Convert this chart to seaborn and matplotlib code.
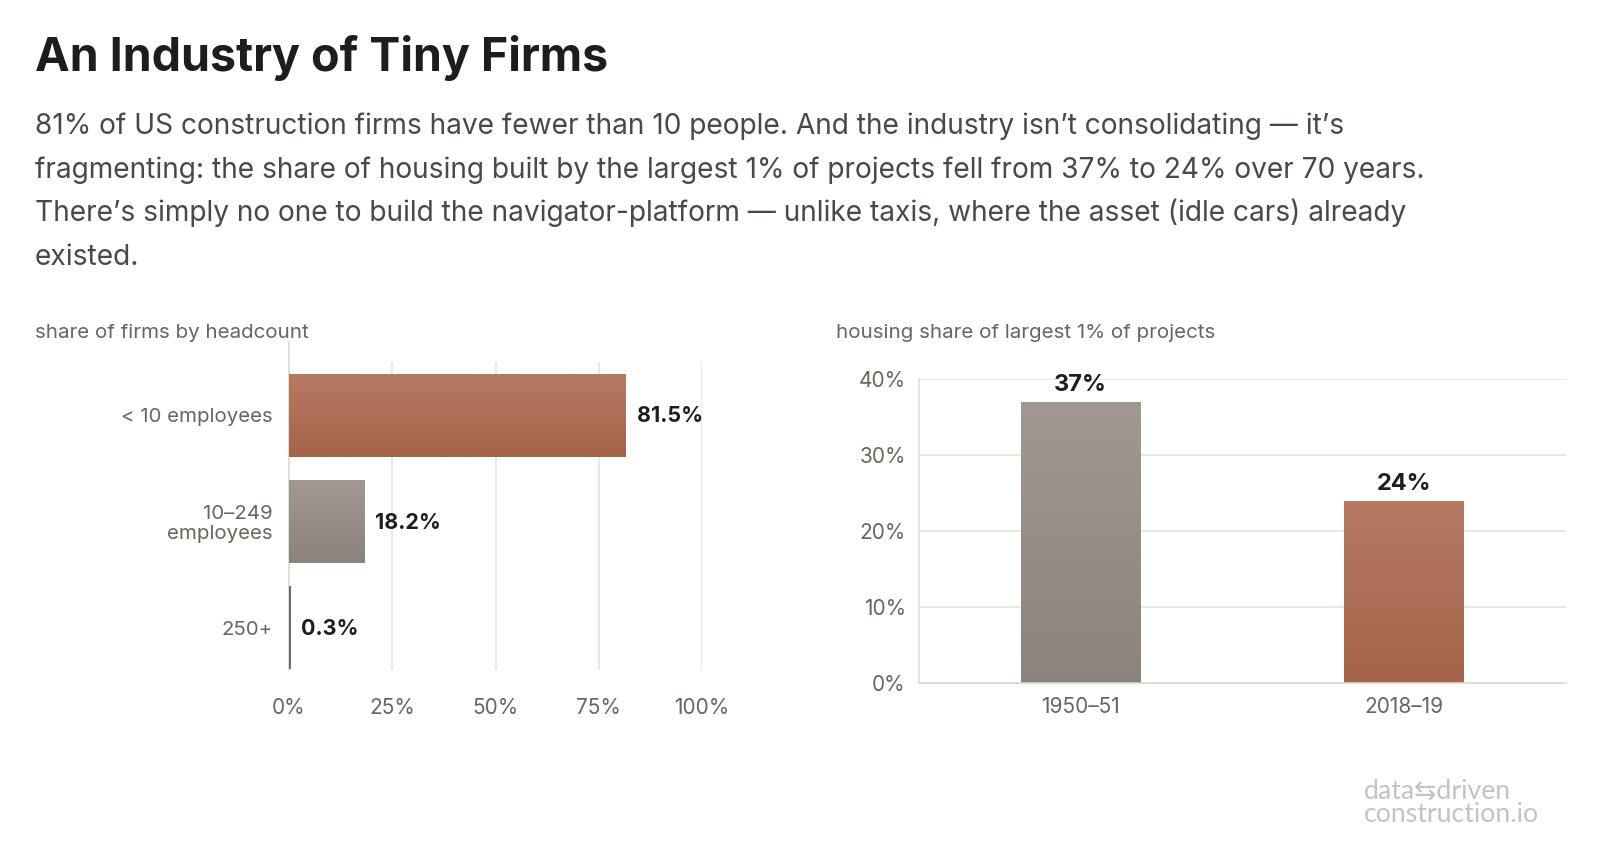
import numpy as np
import pandas as pd
import matplotlib
matplotlib.use("Agg")
import matplotlib.pyplot as plt
import matplotlib.colors as mcolors
import seaborn as sns

# ---------------- data ----------------
firm_sizes = ["< 10 employees", "10\u2013249\nemployees", "250+"]
firm_shares = [81.5, 18.2, 0.3]
firm_share_labels = ["81.5%", "18.2%", "0.3%"]

periods = ["1950\u201351", "2018\u201319"]
housing_shares = [37, 24]
housing_share_labels = ["37%", "24%"]

x_ticks_left = [0, 25, 50, 75, 100]
x_tick_labels_left = ["0%", "25%", "50%", "75%", "100%"]
y_ticks_right = [0, 10, 20, 30, 40]
y_tick_labels_right = ["0%", "10%", "20%", "30%", "40%"]

title = "An Industry of Tiny Firms"
subtitle_lines = [
    "81% of US construction firms have fewer than 10 people. And the industry isn\u2019t consolidating \u2014 it\u2019s",
    "fragmenting: the share of housing built by the largest 1% of projects fell from 37% to 24% over 70 years.",
    "There\u2019s simply no one to build the navigator-platform \u2014 unlike taxis, where the asset (idle cars) already",
    "existed.",
]
left_panel_title = "share of firms by headcount"
right_panel_title = "housing share of largest 1% of projects"

# ---------------- style ----------------
sns.set_theme(style="white")
plt.rcParams["font.family"] = ["Inter", "DejaVu Sans"]

TERRA_TOP, TERRA_BOT = "#b57b61", "#a5634a"
GRAY_TOP, GRAY_BOT = "#9f9991", "#8a847d"
GRID = "#e7e3de"
TICK_COLOR = "#6b645d"
VALUE_COLOR = "#1e1e1e"

W, H = 1600, 858
fig = plt.figure(figsize=(W / 100, H / 100), dpi=100, facecolor="white")


def fx(px):
    return px / W


def fy(py):
    return 1 - py / H


# titles
fig.text(fx(35), fy(71), title, fontsize=33.5, fontweight="bold", color="#1f1d1b",
         ha="left", va="baseline")
for i, line in enumerate(subtitle_lines):
    fig.text(fx(35), fy(134 + i * 43.7), line, fontsize=20.25, color="#4d4844",
             ha="left", va="baseline")

fig.text(fx(35), fy(338), left_panel_title, fontsize=14.8, color=TICK_COLOR,
         ha="left", va="baseline")
fig.text(fx(836), fy(338), right_panel_title, fontsize=14.8, color=TICK_COLOR,
         ha="left", va="baseline")


def gradient_fill(ax, patch, top, bot, horizontal_inverted):
    x0, w = patch.get_x(), patch.get_width()
    y0, h = patch.get_y(), patch.get_height()
    c1 = np.array(mcolors.to_rgb(top))
    c2 = np.array(mcolors.to_rgb(bot))
    t = np.linspace(0, 1, 64)[:, None]
    arr = (c1 * (1 - t) + c2 * t)[:, None, :]
    if horizontal_inverted:
        extent = [x0, x0 + w, y0 + h, y0]
    else:
        extent = [x0, x0 + w, y0, y0 + h]
    im = ax.imshow(arr, extent=extent, origin="upper", aspect="auto",
                   interpolation="bilinear", zorder=patch.get_zorder() + 0.1)
    im.set_clip_path(patch)


# ---------------- left chart ----------------
ax1 = fig.add_axes([fx(289), fy(670), fx(702) - fx(289), (670 - 362) / H])
df1 = pd.DataFrame({"size": firm_sizes, "share": firm_shares})
sns.barplot(data=df1, x="share", y="size", hue="size", orient="h",
            palette=[TERRA_BOT, GRAY_BOT, "#6f6a64"], width=0.78,
            legend=False, ax=ax1, saturation=1, edgecolor="none")
tops = [TERRA_TOP, GRAY_TOP, "#6f6a64"]
bots = [TERRA_BOT, GRAY_BOT, "#6f6a64"]
for p, ct, cb in zip(list(ax1.patches), tops, bots):
    gradient_fill(ax1, p, ct, cb, True)
ax1.set_xlim(0, 100)
ax1.set_ylim(2.4, -0.5)
ax1.set_xticks(x_ticks_left)
ax1.set_xticklabels(x_tick_labels_left)
ax1.set_xlabel("")
ax1.set_ylabel("")
for x in x_ticks_left[1:]:
    ax1.axvline(x, color=GRID, lw=1.2, zorder=0)
ax1.axvline(0, ymin=0, ymax=1.065, color="#dcd7d1", lw=1.2, zorder=0, clip_on=False)
for s in ax1.spines.values():
    s.set_visible(False)
ax1.tick_params(axis="x", length=0, pad=20, labelsize=15, labelcolor=TICK_COLOR)
ax1.tick_params(axis="y", length=0, pad=12, labelsize=14.7, labelcolor=TICK_COLOR)
for lab in ax1.get_yticklabels():
    lab.set_linespacing(1.15)
    lab.set_horizontalalignment("right")
for i, (v, s) in enumerate(zip(firm_shares, firm_share_labels)):
    ax1.annotate(s, xy=(v, i), xytext=(8, -1), textcoords="offset points",
                 ha="left", va="center", fontsize=15.5, fontweight="bold",
                 color=VALUE_COLOR, annotation_clip=False)
ax1.set_facecolor("none")

# ---------------- right chart ----------------
ax2 = fig.add_axes([fx(919), fy(683), fx(1566) - fx(919), (683 - 379) / H])
df2 = pd.DataFrame({"period": periods, "share": housing_shares})
sns.barplot(data=df2, x="period", y="share", hue="period",
            palette=[GRAY_BOT, TERRA_BOT], width=0.37, legend=False, ax=ax2,
            saturation=1, edgecolor="none")
for p, ct, cb in zip(list(ax2.patches), [GRAY_TOP, TERRA_TOP], [GRAY_BOT, TERRA_BOT]):
    gradient_fill(ax2, p, ct, cb, False)
ax2.set_xlim(-0.5, 1.5)
ax2.set_ylim(0, 40)
ax2.set_yticks(y_ticks_right)
ax2.set_yticklabels(y_tick_labels_right)
ax2.set_xlabel("")
ax2.set_ylabel("")
for y in y_ticks_right[1:]:
    ax2.axhline(y, color=GRID, lw=1.2, zorder=0)
for side in ["top", "right"]:
    ax2.spines[side].set_visible(False)
ax2.spines["left"].set_color("#e0dbd5")
ax2.spines["bottom"].set_color("#d9d4ce")
ax2.spines["left"].set_linewidth(1.2)
ax2.spines["bottom"].set_linewidth(1.2)
ax2.tick_params(axis="x", length=0, pad=10, labelsize=15, labelcolor=TICK_COLOR)
ax2.tick_params(axis="y", length=0, pad=9.5, labelsize=15, labelcolor=TICK_COLOR)
for i, (v, s) in enumerate(zip(housing_shares, housing_share_labels)):
    ax2.annotate(s, xy=(i, v), xytext=(0, 12), textcoords="offset points",
                 ha="center", va="center", fontsize=17, fontweight="bold",
                 color=VALUE_COLOR, annotation_clip=False)
ax2.set_facecolor("none")

# ---------------- watermark ----------------
fig.text(fx(1364), fy(791), "data\u21c6driven", fontsize=19.2, color="#c3c3c3",
         ha="left", va="center", family=["Lato", "DejaVu Sans"])
fig.text(fx(1364), fy(814), "construction.io", fontsize=19.2, color="#c3c3c3",
         ha="left", va="center", family=["Lato", "DejaVu Sans"])

fig.savefig("out.png", dpi=100, facecolor="white")
